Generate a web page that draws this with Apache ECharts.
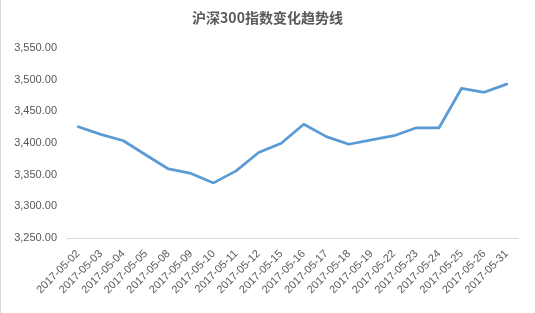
<!DOCTYPE html>
<html><head><meta charset="utf-8">
<script src="https://cdn.jsdelivr.net/npm/echarts@6/dist/echarts.min.js"></script>
<style>html,body{margin:0;padding:0;background:#fff}#c{width:535px;height:313px}</style>
</head><body><div id="c"></div>
<script>
const title = '沪深300指数变化趋势线';
const categories = ['2017-05-02','2017-05-03','2017-05-04','2017-05-05','2017-05-08','2017-05-09','2017-05-10','2017-05-11','2017-05-12','2017-05-15','2017-05-16','2017-05-17','2017-05-18','2017-05-19','2017-05-22','2017-05-23','2017-05-24','2017-05-25','2017-05-26','2017-05-31'];
const values = [3425.7,3413.7,3403.6,3381.0,3359.0,3352.0,3337.0,3356.0,3385.0,3399.5,3429.5,3410.0,3398.0,3405.0,3411.5,3424.0,3424.0,3486.4,3480.0,3493.0];
const yMin = 3250, yMax = 3550, yStep = 50;

const chart = echarts.init(document.getElementById('c'), null, {renderer:'canvas'});
chart.setOption({
  animation:false,
  backgroundColor:'#fff',
  title:{text:title,left:'center',top:6,textStyle:{fontFamily:'Noto Sans CJK SC',fontSize:14,fontWeight:'bold',color:'#595959'}},
  grid:{left:67,right:17,top:48,bottom:75,containLabel:false},
  graphic:[{type:'line',shape:{x1:0.5,y1:0,x2:0.5,y2:313},style:{stroke:'#d9d9d9',lineWidth:1}}],
  xAxis:{type:'category',data:categories,boundaryGap:true,
    axisLine:{lineStyle:{color:'#d9d9d9',width:1}},axisTick:{show:false},
    axisLabel:{rotate:45,interval:0,fontFamily:'Liberation Sans',fontSize:11,color:'#595959',margin:14}},
  yAxis:{type:'value',min:yMin,max:yMax,interval:yStep,
    axisLine:{show:false},axisTick:{show:false},splitLine:{show:false},
    axisLabel:{fontFamily:'Liberation Sans',fontSize:11,color:'#595959',margin:10,
      formatter:v=>v.toLocaleString('en-US',{minimumFractionDigits:2,maximumFractionDigits:2})}},
  series:[{type:'line',data:values,symbol:'none',lineStyle:{color:'#5B9BD5',width:2.75,cap:'round',join:'round'}}]
});
</script></body></html>
